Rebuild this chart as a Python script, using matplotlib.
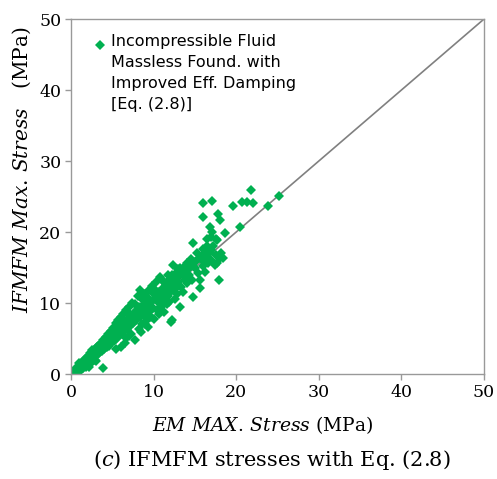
import numpy as np
import matplotlib.pyplot as plt

plt.rcParams['mathtext.fontset'] = 'custom'
plt.rcParams['mathtext.rm'] = 'DejaVu Serif'
plt.rcParams['mathtext.it'] = 'DejaVu Serif:italic'

# EM max stress (x) vs IFMFM max stress (y), MPa
em = [0.2, 0.3, 0.4, 0.5, 0.6, 0.7, 0.8, 0.9, 1.0, 1.1, 1.2, 1.3, 1.4, 1.5, 1.6, 1.7, 1.8, 1.9,
      2.0, 2.1, 2.2, 2.3, 2.4, 2.5, 2.0, 3.0, 1.5,
      2.6, 2.7, 2.8, 2.9, 3.0, 3.1, 3.2, 3.3, 3.4, 3.5, 3.6, 3.7, 3.8, 3.9, 3.9, 4.0, 4.1, 4.2,
      4.3, 4.4, 4.5, 4.6, 4.7, 4.8, 4.9, 5.0,
      5.1, 5.2, 5.3, 5.4, 5.5, 5.6, 5.7, 5.8, 5.9, 6.0, 6.0, 6.1, 6.2, 6.3, 6.4, 6.5, 6.6, 6.7,
      6.8, 6.9, 7.0, 7.1, 7.2, 7.3, 7.4, 7.5, 7.6, 7.7, 7.8, 7.9, 8.0, 5.5, 6.5, 7.0,
      8.1, 8.2, 8.3, 8.4, 8.5, 8.6, 8.7, 8.8, 8.9, 9.0, 9.1, 9.2, 9.3, 9.4, 9.5, 9.6, 9.7, 9.8,
      9.9, 10.0, 10.1, 10.2, 10.3, 10.4, 10.5, 10.6, 10.7, 10.8, 10.9, 11.0, 8.5, 9.0,
      11.1, 11.2, 11.3, 11.4, 11.5, 11.6, 11.7, 11.8, 11.9, 12.0, 12.1, 12.2, 12.3, 12.4, 12.5,
      12.6, 12.7, 12.8, 12.9, 13.0, 13.2, 13.3, 13.5, 13.6, 13.8, 14.0, 14.1, 14.3, 14.5, 14.6,
      14.8, 14.8, 15.0, 15.2, 15.4, 15.6, 15.6, 15.8, 16.0, 16.0, 16.2, 16.4, 16.5, 16.6, 16.8,
      16.8, 17.0, 17.1, 17.2, 17.4, 17.5, 17.7, 17.9, 18.0, 18.2, 18.4, 16.0, 16.0, 17.1, 17.8,
      18.0, 18.6, 16.5, 17.5, 16.9, 17.7,
      19.6, 20.5, 20.7, 21.3, 22.0, 21.8, 23.8, 25.2,
      0.5, 1.0, 1.5, 2.0, 2.5, 3.0, 3.5, 4.0, 4.5, 5.0, 5.5, 6.0, 6.5, 7.0, 7.5, 8.0, 8.5,
      9.0, 9.5, 10.0, 10.5, 11.0, 11.5, 12.0, 12.5, 13.0, 13.5, 14.0, 14.5, 15.0, 15.5, 16.0,
      16.5, 17.0,
      3.2, 4.2, 5.2, 6.2, 7.2, 8.2, 9.2, 10.2, 11.2, 12.2, 13.2,
      3.8, 4.8, 5.8, 6.8, 7.8, 8.8, 9.8, 10.8, 11.8, 12.8, 13.8,
      0.6, 1.2, 1.8, 2.4, 2.2, 1.0]
ifmfm = [0.2, 0.4, 0.3, 0.6, 0.5, 0.9, 0.7, 1.1, 0.8, 1.3, 1.0, 1.6, 1.2, 1.8, 1.4, 2.1, 1.5, 2.3,
         1.7, 2.6, 1.9, 3.0, 2.2, 2.7, 1.2, 1.9, 0.9,
         3.4, 2.4, 3.1, 2.0, 3.6, 2.7, 3.3, 4.0, 2.9, 3.7, 4.4, 3.2, 4.1, 0.9, 4.8, 3.5, 4.4, 5.2,
         3.8, 4.7, 5.6, 4.0, 5.0, 6.0, 4.3, 5.4,
         6.5, 4.6, 5.8, 7.2, 4.9, 6.2, 7.6, 5.3, 6.6, 3.8, 8.0, 5.6, 7.0, 8.5, 6.0, 7.4, 5.1, 9.0,
         6.4, 7.8, 9.4, 6.8, 8.2, 5.7, 10.0, 7.2, 8.6, 4.8, 9.8, 7.6, 9.0, 3.5, 4.4, 5.3,
         11.0, 6.3, 8.0, 11.8, 9.4, 7.1, 10.4, 8.4, 11.3, 9.8, 7.5, 10.8, 6.6, 8.9, 11.9, 10.2, 8.0, 12.4,
         9.3, 11.2, 7.8, 10.6, 12.9, 9.0, 11.6, 8.5, 10.0, 13.6, 9.4, 12.0, 5.9, 7.0,
         10.4, 13.0, 8.8, 11.4, 12.6, 9.8, 14.0, 11.0, 10.2, 13.4, 7.3, 7.6, 11.8, 15.4, 12.6,
         10.6, 14.2, 11.3, 13.0, 14.8, 9.4, 12.2, 15.0, 11.6, 13.6, 12.8, 15.6, 14.0, 16.2, 13.3,
         10.8, 18.5, 15.0, 17.0, 14.2, 13.2, 12.1, 16.0, 17.6, 15.2, 14.4, 16.6, 19.0, 15.6, 17.2,
         20.7, 16.0, 20.0, 18.0, 15.4, 16.8, 15.6, 13.2, 16.4, 17.0, 16.3, 22.1, 24.1, 24.4, 22.5,
         21.7, 19.9, 18.0, 19.0, 19.3, 18.9,
         23.7, 20.7, 24.2, 24.2, 24.1, 25.9, 23.7, 25.1,
         0.5, 1.1, 1.5, 2.1, 2.6, 3.1, 3.5, 4.2, 4.6, 5.2, 5.7, 6.3, 6.8, 7.3, 7.9, 8.4, 8.9,
         9.4, 10.0, 10.5, 11.0, 11.5, 12.1, 12.5, 13.1, 13.6, 14.2, 14.7, 15.2, 15.8, 16.3, 16.8,
         17.3, 17.5,
         3.8, 4.9, 6.0, 7.2, 8.4, 9.5, 10.6, 11.8, 12.9, 14.0, 15.0,
         3.4, 4.6, 5.5, 6.5, 7.4, 8.3, 9.2, 10.2, 11.2, 12.3, 13.2,
         0.2, 0.6, 1.0, 1.5, 1.0, 1.6]

green = '#00B050'
grey = '#999999'

fig = plt.figure(figsize=(4.97, 4.79), dpi=100)
ax = fig.add_axes([0.1429, 0.2192, 0.831, 0.7411])

ax.plot([0, 50], [0, 50], color='#808080', lw=1.2, zorder=1)
ax.plot(em, ifmfm, 'D', color=green, markersize=5.3, markeredgewidth=0, zorder=2)

ax.set_xlim(0, 50)
ax.set_ylim(0, 50)
ax.set_xticks(np.arange(0, 51, 10))
ax.set_yticks(np.arange(0, 51, 10))
for s in ax.spines.values():
    s.set_color(grey)
    s.set_linewidth(1.0)
ax.tick_params(direction='out', length=4, width=1.0, color=grey, labelsize=12.5, pad=3)
for lab in ax.get_xticklabels() + ax.get_yticklabels():
    lab.set_family('DejaVu Serif')

# legend drawn by hand so the marker sits on the first line
ax.plot([0.07], [0.927], 'D', color=green, markersize=5.3, markeredgewidth=0,
        transform=ax.transAxes, clip_on=False)
ax.text(0.097, 0.958, 'Incompressible Fluid\nMassless Found. with\nImproved Eff. Damping\n[Eq. (2.8)]',
        transform=ax.transAxes, ha='left', va='top', fontsize=11.5,
        family='DejaVu Sans', linespacing=1.5)

fig.text(263/497, 1 - 425/479, r'$\mathit{EM\ MAX.\!\ Stress}$ (MPa)',
         ha='center', va='center', fontsize=13.5, family='DejaVu Serif')
fig.text(22/497, 1 - 170/479, r'$\mathit{IFMFM\ Max.\!\ Stress}$   (MPa)',
         ha='center', va='center', rotation=90, fontsize=14.5, family='DejaVu Serif')
fig.text(272/497, 1 - 460/479, r'$\mathit{(c)}$ IFMFM stresses with Eq. (2.8)',
         ha='center', va='center', fontsize=15, family='DejaVu Serif')

fig.savefig('out.png', dpi=100)
